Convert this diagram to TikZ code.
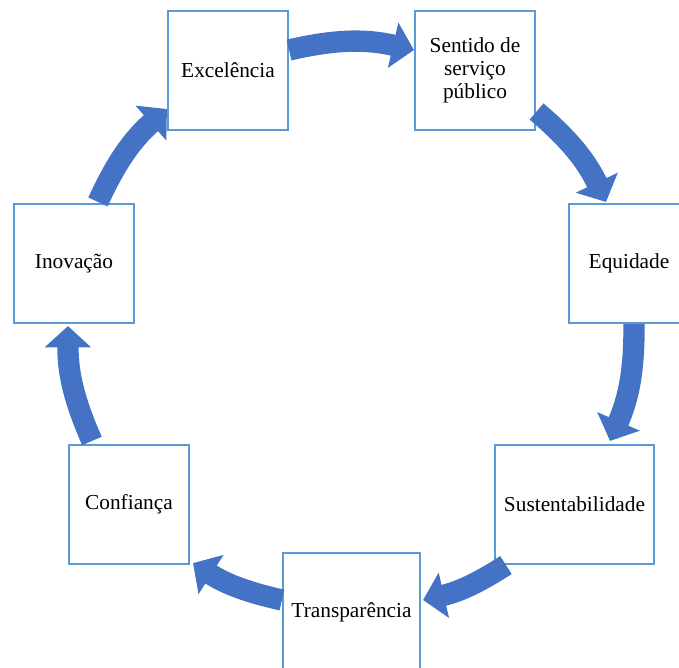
\documentclass[tikz,border=0pt]{standalone}
\usepackage{fontspec}
\setmainfont{Liberation Serif}
\usetikzlibrary{arrows.meta,calc}

\definecolor{boxline}{HTML}{5B9BD5}
\definecolor{flowblue}{HTML}{4472C4}

\tikzset{
    valuebox/.style={draw=boxline, line width=1.6pt, fill=white, minimum width=90pt, minimum height=89.25pt, align=center, inner sep=2pt, font=\fontsize{16}{17}\selectfont},
    cyclearrow/.style={draw=flowblue, line width=16pt, -{Triangle[width=34pt,length=16pt]}}
}

\begin{document}
\begin{tikzpicture}[x=0.75pt,y=0.75pt]

    \useasboundingbox (0,0) rectangle (679,-668);

    % Values around the cycle
    \node[valuebox] (exc)    at (228,-70.5)   {Excelência};
    \node[valuebox] (sent)   at (475,-70.5)   {Sentido de\\serviço\\público};
    \node[valuebox] (equi)   at (629,-263.5)  {Equidade};
    \node[valuebox, minimum width=119.25pt] (sust) at (574.5,-504.5) {Sustentabilidade};
    \node[valuebox, minimum width=102.75pt] (transp) at (351.5,-612.5) {Transparência};
    \node[valuebox] (conf)   at (129,-504.5)  {Confiança};
    \node[valuebox] (inov)   at (74,-263.5)   {Inovação};

    % Cycle arrows
    \draw[cyclearrow] ($(exc.east)+(0,20.5)$) to[bend left=13] ($(sent.west)+(0,20.5)$);
    \draw[cyclearrow] ($(sent.east)+(0.5,-41)$) to[bend left=12] ($(equi.north)+(-23,1)$);
    \draw[cyclearrow] ($(equi.south)+(5,0)$) to[bend left=12] ($(sust.north)+(35.5,3)$);
    \draw[cyclearrow] ($(sust.south west)+(12,0)$) to[bend left=10] ($(transp.east)+(2,12.5)$);
    \draw[cyclearrow] ($(transp.west)+(0,12.5)$) to[bend left=10] ($(conf.south east)+(3,2)$);
    \draw[cyclearrow] ($(conf.north west)+(24,3)$) to[bend left=12] ($(inov.south)+(-6,-2)$);
    \draw[cyclearrow] ($(inov.north)+(24,1)$) to[bend left=12] ($(exc.west)+(0,-38.5)$);

\end{tikzpicture}
\end{document}
